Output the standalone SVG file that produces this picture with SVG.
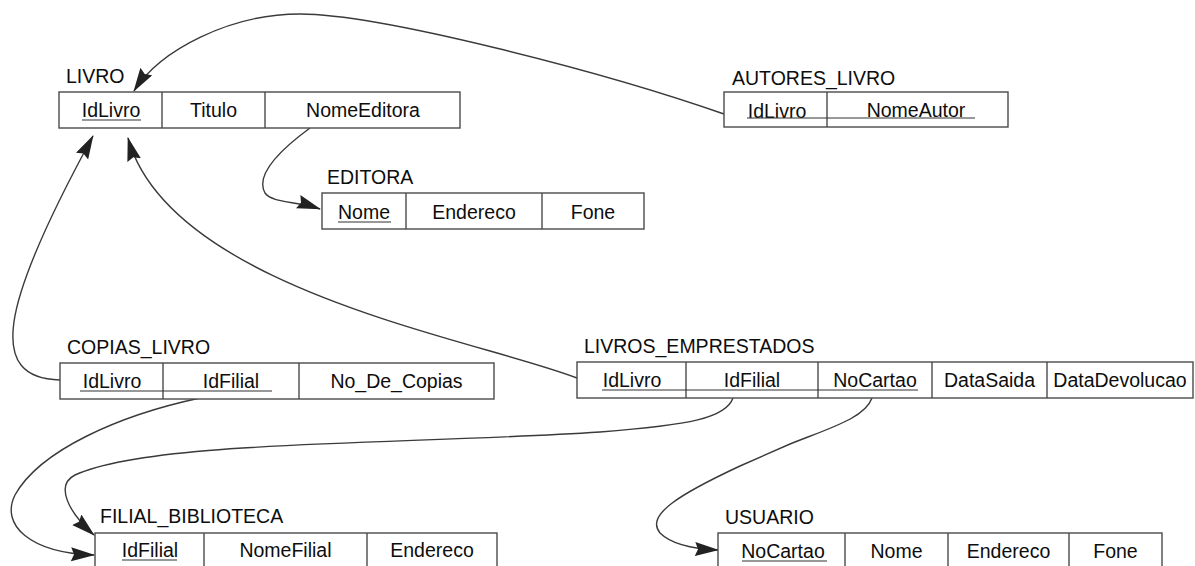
<svg xmlns="http://www.w3.org/2000/svg" width="1195" height="566" viewBox="0 0 1195 566">
<style>
text { font-family: "Liberation Sans", Arial, Helvetica, sans-serif; font-size: 19.5px; fill: #0d0d0d; }
.t { text-anchor: start; }
.c { text-anchor: middle; }
.box { fill: #ffffff; stroke: #4a4a4a; stroke-width: 1.4; }
.div { stroke: #4a4a4a; stroke-width: 1.4; }
.ul { stroke: #333333; stroke-width: 1.2; }
.conn { fill: none; stroke: #3a3a3a; stroke-width: 1.4; marker-end: url(#arrow); }
</style>
<defs>
<marker id="arrow" markerUnits="userSpaceOnUse" markerWidth="26" markerHeight="15" refX="23" refY="7" orient="auto">
<path d="M0,0 L24,7 L0,14 L3,7 z" fill="#222222"/>
</marker>
</defs>
<rect width="1195" height="566" fill="#ffffff"/>

<g id="connectors">
<path class="conn" d="M724,114 C604,72 380,14 300,14 C230,14 160,50 134,91"/>
<path class="conn" d="M310,128 C280,150 255,175 265,193 C272,203 296,201 320,209"/>
<path class="conn" d="M60,380 C-12,378 -2,310 93,136"/>
<path class="conn" d="M577,378 C480,340 170,290 128,138"/>
<path class="conn" d="M733,398 C726,418 690,425 600,432 C400,445 150,440 75,475 C55,485 68,512 94,535"/>
<path class="conn" d="M200,398 C120,415 40,450 15,495 C0,525 30,553 94,555"/>
<path class="conn" d="M872,398 C865,418 830,428 790,444 L740,466 C680,494 645,515 660,533 C672,545 695,549 718,550"/>
</g>

<g id="LIVRO">
<text class="t" x="66" y="83">LIVRO</text>
<rect class="box" x="59" y="92" width="401" height="36"/>
<line class="div" x1="162" y1="92" x2="162" y2="128"/>
<line class="div" x1="265" y1="92" x2="265" y2="128"/>
<text class="c" x="111" y="117">IdLivro</text>
<text class="c" x="213.5" y="117">Titulo</text>
<text class="c" x="363" y="117">NomeEditora</text>
<line class="ul" x1="82" y1="120" x2="141" y2="120"/>
</g>

<g id="EDITORA">
<text class="t" x="327" y="184">EDITORA</text>
<rect class="box" x="322" y="193" width="322" height="36"/>
<line class="div" x1="406" y1="193" x2="406" y2="229"/>
<line class="div" x1="542" y1="193" x2="542" y2="229"/>
<text class="c" x="364" y="219">Nome</text>
<text class="c" x="474" y="219">Endereco</text>
<text class="c" x="593" y="219">Fone</text>
<line class="ul" x1="338" y1="222" x2="391" y2="222"/>
</g>

<g id="AUTORES_LIVRO">
<text class="t" x="732" y="85">AUTORES_LIVRO</text>
<rect class="box" x="724" y="92" width="284" height="35"/>
<line class="div" x1="827" y1="92" x2="827" y2="127"/>
<text class="c" x="777" y="118">IdLivro</text>
<text class="c" x="916" y="117">NomeAutor</text>
<line class="ul" x1="747" y1="118" x2="975" y2="118"/>
</g>

<g id="COPIAS_LIVRO">
<text class="t" x="67" y="354">COPIAS_LIVRO</text>
<rect class="box" x="60" y="363" width="434" height="36"/>
<line class="div" x1="163" y1="363" x2="163" y2="399"/>
<line class="div" x1="299" y1="363" x2="299" y2="399"/>
<text class="c" x="112" y="388">IdLivro</text>
<text class="c" x="231" y="388">IdFilial</text>
<text class="c" x="396.5" y="388">No_De_Copias</text>
<line class="ul" x1="80" y1="391" x2="272" y2="391"/>
</g>

<g id="LIVROS_EMPRESTADOS">
<text class="t" x="584" y="353">LIVROS_EMPRESTADOS</text>
<rect class="box" x="577" y="362" width="616" height="36"/>
<line class="div" x1="686" y1="362" x2="686" y2="398"/>
<line class="div" x1="818" y1="362" x2="818" y2="398"/>
<line class="div" x1="932" y1="362" x2="932" y2="398"/>
<line class="div" x1="1047" y1="362" x2="1047" y2="398"/>
<text class="c" x="632" y="387">IdLivro</text>
<text class="c" x="752" y="387">IdFilial</text>
<text class="c" x="875" y="387">NoCartao</text>
<text class="c" x="989.5" y="387">DataSaida</text>
<text class="c" x="1120" y="387">DataDevolucao</text>
<line class="ul" x1="602" y1="390" x2="918" y2="390"/>
</g>

<g id="FILIAL_BIBLIOTECA">
<text class="t" x="100" y="523">FILIAL_BIBLIOTECA</text>
<rect class="box" x="95" y="533" width="402" height="36"/>
<line class="div" x1="204" y1="533" x2="204" y2="569"/>
<line class="div" x1="367" y1="533" x2="367" y2="569"/>
<text class="c" x="150" y="557">IdFilial</text>
<text class="c" x="285.5" y="557">NomeFilial</text>
<text class="c" x="432" y="557">Endereco</text>
<line class="ul" x1="122" y1="560" x2="177" y2="560"/>
</g>

<g id="USUARIO">
<text class="t" x="725" y="524">USUARIO</text>
<rect class="box" x="718" y="533" width="444" height="36"/>
<line class="div" x1="845" y1="533" x2="845" y2="569"/>
<line class="div" x1="948" y1="533" x2="948" y2="569"/>
<line class="div" x1="1069" y1="533" x2="1069" y2="569"/>
<text class="c" x="783" y="558">NoCartao</text>
<text class="c" x="896.5" y="558">Nome</text>
<text class="c" x="1008.5" y="558">Endereco</text>
<text class="c" x="1115.5" y="558">Fone</text>
<line class="ul" x1="742" y1="561" x2="827" y2="561"/>
</g>
</svg>
